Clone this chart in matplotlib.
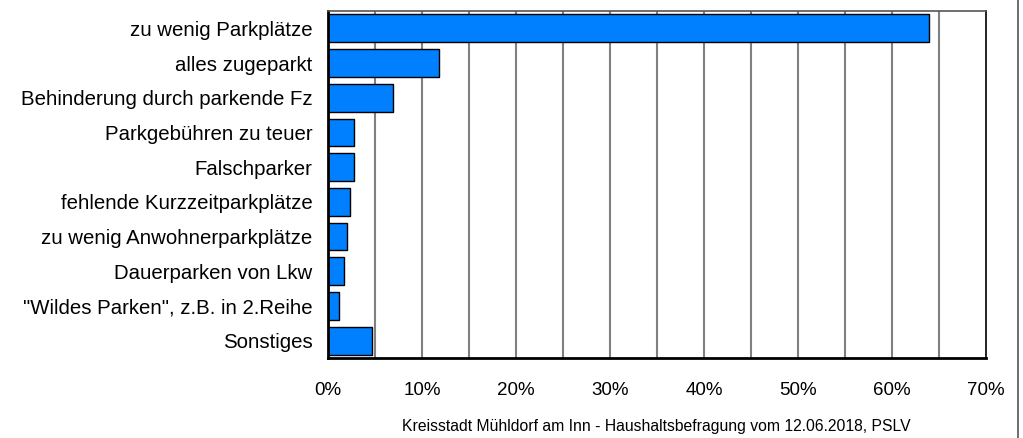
import matplotlib.pyplot as plt
import numpy as np
from matplotlib.lines import Line2D

categories = [
    "zu wenig Parkplätze",
    "alles zugeparkt",
    "Behinderung durch parkende Fz",
    "Parkgebühren zu teuer",
    "Falschparker",
    "fehlende Kurzzeitparkplätze",
    "zu wenig Anwohnerparkplätze",
    "Dauerparken von Lkw",
    "\"Wildes Parken\", z.B. in 2.Reihe",
    "Sonstiges",
]
values = [63.9, 11.8, 6.9, 2.8, 2.8, 2.3, 2.0, 1.7, 1.2, 4.7]
xticks = [0, 10, 20, 30, 40, 50, 60, 70]
footer = "Kreisstadt Mühldorf am Inn - Haushaltsbefragung vom 12.06.2018, PSLV"

plt.rcParams["font.family"] = ["Liberation Sans", "DejaVu Sans"]

fig = plt.figure(figsize=(10.23, 4.38), dpi=100)
ax = fig.add_axes([0.3206, 0.1826, 0.6432, 0.7923])

y = np.arange(len(categories))

# grid every 5 %
for g in np.arange(5, 70, 5):
    ax.axvline(g, color="#808080", lw=1.5, zorder=0)

# slight shadow behind the bars
ax.barh(y + 0.03, values, height=0.8, left=0.1, color="#303060", zorder=1)
ax.barh(y, values, height=0.8, color="#0080ff", edgecolor="black", lw=1.0, zorder=2)

ax.set_xlim(0, 70)
ax.set_ylim(len(categories) - 0.5, -0.5)
ax.set_yticks(y)
ax.set_yticklabels(categories, fontsize=14.7)
ax.set_xticks(xticks)
ax.set_xticklabels([f"{t}%" for t in xticks], fontsize=13.5)
ax.tick_params(axis="y", length=0, pad=11)
ax.tick_params(axis="x", length=0, pad=17)

for side in ["left", "bottom"]:
    ax.spines[side].set_linewidth(2)
    ax.spines[side].set_color("black")
ax.spines["right"].set_linewidth(1.2)
ax.spines["top"].set_linewidth(1.2)
ax.spines["top"].set_color("#555555")

fig.text(0.642, 0.027, footer, ha="center", va="center", fontsize=11.3)

# frame line at the right edge
fig.add_artist(Line2D([0.9955, 0.9955], [0, 1], color="#555555", lw=1.2,
                      transform=fig.transFigure))

fig.savefig("out.png", dpi=100)
